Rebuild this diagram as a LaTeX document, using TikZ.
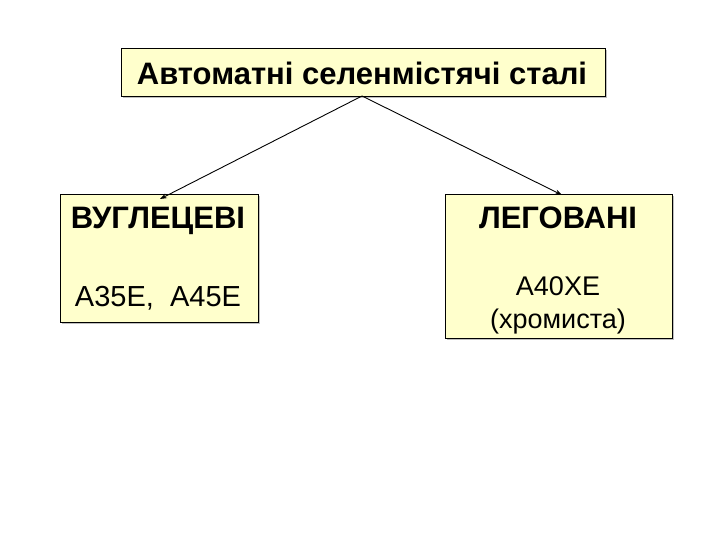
\documentclass[tikz,border=0pt]{standalone}
\usepackage{fontspec}
\usetikzlibrary{arrows.meta}
\setmainfont{Liberation Sans}
\begin{document}
\begin{tikzpicture}[x=1pt,y=-1pt,
  box/.style={draw=black,fill={rgb,255:red,255;green,255;blue,204},line width=0.9pt,inner sep=0pt},
  lbl/.style={font=\fontsize{29}{34}\selectfont},
  arr/.style={-{Stealth[length=7pt,width=5pt]},line width=0.9pt}]
\useasboundingbox (0,0) rectangle (720,540);
\fill[black!25] (123,50) rectangle (607,98);
\fill[black!25] (62,196) rectangle (260,324);
\fill[black!25] (447,196) rectangle (674,340);
\node[box,minimum width=484,minimum height=48,anchor=north west] (top) at (121,48) {};
\node[box,minimum width=198,minimum height=128,anchor=north west] (l) at (60,194) {};
\node[box,minimum width=227,minimum height=144,anchor=north west] (r) at (445,194) {};
\node[lbl,font=\fontsize{31}{36}\selectfont\bfseries] (tt) at (362,73) {Автоматні селенмістячі сталі};
\node[lbl,font=\fontsize{31}{36}\selectfont\bfseries] (lt) at (158,221) {ВУГЛЕЦЕВІ};
\node[lbl] (lb) at (158,298) {А35Е,\ \ А45Е};
\node[lbl,font=\fontsize{31}{36}\selectfont\bfseries] (rt) at (558,218) {ЛЕГОВАНІ};
\node[lbl,align=center,font=\fontsize{27}{33}\selectfont] (rb) at (558,305) {А40ХЕ\\(хромиста)};
\coordinate (apex) at (362,96);
\draw[arr] (apex) -- (160,199);
\draw[arr] (apex) -- (562,195);
\end{tikzpicture}
\end{document}
